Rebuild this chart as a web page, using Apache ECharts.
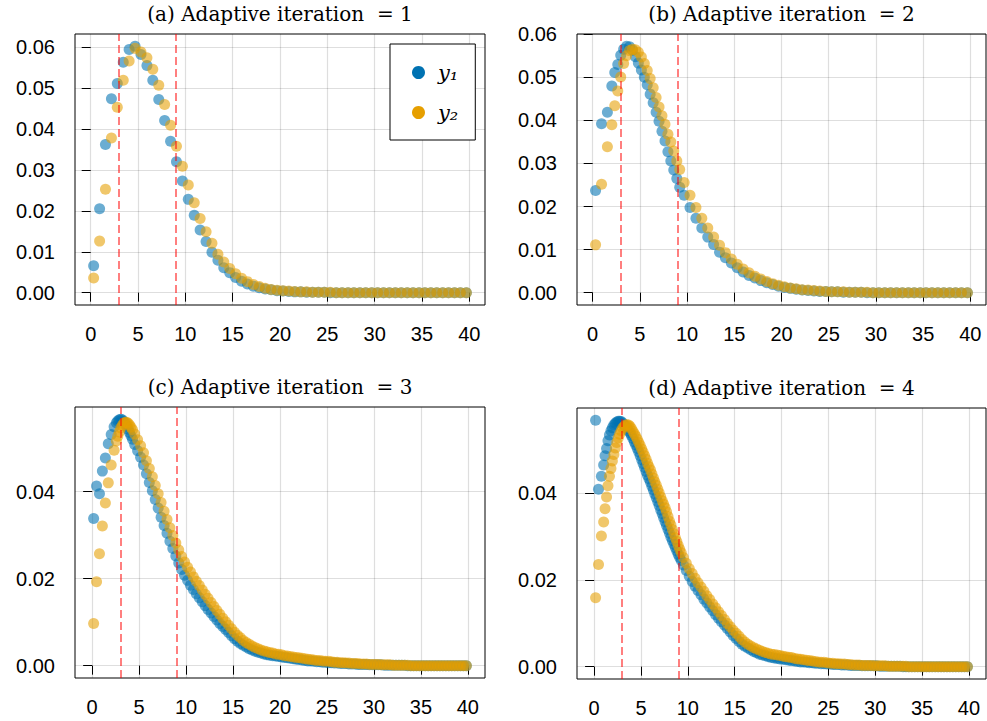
<!DOCTYPE html>
<html><head><meta charset="utf-8">
<script src="https://cdn.jsdelivr.net/npm/echarts@6/dist/echarts.min.js"></script>
<style>html,body{margin:0;padding:0;background:#fff}#c{width:987px;height:721px}</style>
</head><body><div id="c"></div>
<script>
// ---------- data ----------
const titles = ['(a) Adaptive iteration  = 1', '(b) Adaptive iteration  = 2', '(c) Adaptive iteration  = 3', '(d) Adaptive iteration  = 4'];
const seriesNames = ['y\u2081', 'y\u2082'];
const vlines = [3, 9];
const xTicks = [0, 5, 10, 15, 20, 25, 30, 35, 40];
const yTicksAB = [0, 0.01, 0.02, 0.03, 0.04, 0.05, 0.06];
const yTicksCD = [0, 0.02, 0.04];

// (a)
const xA = [0.31,0.94,1.56,2.19,2.81,3.44,4.06,4.69,5.31,5.94,6.56,7.19,7.81,8.44,9.06,9.69,
  10.31,10.94,11.56,12.19,12.81,13.44,14.06,14.69,15.31,15.94,16.56,17.19,17.81,18.44,19.06,19.69,
  20.31,20.94,21.56,22.19,22.81,23.44,24.06,24.69,25.31,25.94,26.56,27.19,27.81,28.44,29.06,29.69,
  30.31,30.94,31.56,32.19,32.81,33.44,34.06,34.69,35.31,35.94,36.56,37.19,37.81,38.44,39.06,39.69];
const y1A = [0.0066,0.0205,0.0362,0.0474,0.0511,0.0563,0.0594,0.0602,0.0582,0.0555,0.0519,0.0472,0.0421,0.0370,0.0320,0.0273,
  0.0228,0.0189,0.0153,0.0125,0.0099,0.0079,0.0061,0.0049,0.0037,0.0028,0.0021,0.0016,0.0012,0.0009,0.0007,0.0005,
  0.0004,0.0003,0.0002,0.0002,0.0001,0.0001,0.0001,0.0001,0,0,0,0,0,0,0,0,
  0,0,0,0,0,0,0,0,0,0,0,0,0,0,0,0];
const y2A = [0.0036,0.0126,0.0253,0.0378,0.0453,0.0519,0.0566,0.0597,0.0588,0.0574,0.0546,0.0507,0.0460,0.0409,0.0358,0.0309,
  0.0263,0.0220,0.0181,0.0149,0.0121,0.0094,0.0075,0.0059,0.0046,0.0035,0.0027,0.0020,0.0015,0.0011,0.0008,0.0006,
  0.0005,0.0004,0.0003,0.0002,0.0002,0.0001,0.0001,0.0001,0.0001,0,0,0,0,0,0,0,
  0,0,0,0,0,0,0,0,0,0,0,0,0,0,0,0];

// (b)
const xB = [0.31,0.94,1.56,
  2.03,2.34,2.66,2.97,3.28,3.59,3.91,4.22,4.53,4.84,5.16,5.47,5.78,6.09,6.41,6.72,7.03,7.34,7.66,7.97,8.28,8.59,8.91,9.22,
  9.69,10.31,10.94,11.56,12.19,12.81,13.44,14.06,14.69,15.31,15.94,16.56,17.19,17.81,18.44,19.06,19.69,
  20.31,20.94,21.56,22.19,22.81,23.44,24.06,24.69,25.31,25.94,26.56,27.19,27.81,28.44,29.06,29.69,
  30.31,30.94,31.56,32.19,32.81,33.44,34.06,34.69,35.31,35.94,36.56,37.19,37.81,38.44,39.06,39.69];
const y1B = [0.0237,0.0392,0.0419,
  0.0480,0.0511,0.0530,0.0551,0.0565,0.0572,0.0571,0.0563,0.0548,0.0533,0.0517,0.0500,0.0483,0.0461,0.0441,0.0419,
  0.0398,0.0375,0.0352,0.0327,0.0306,0.0285,0.0265,0.0245,
  0.0226,0.0198,0.0173,0.0150,0.0129,0.0112,0.0094,0.0081,0.0069,0.0058,0.0048,0.0040,0.0034,0.0028,0.0023,0.0019,
  0.0015,0.0012,0.0010,0.0008,0.0006,0.0005,0.0004,0.0003,0.0003,0.0002,0.0002,0.0001,0.0001,0.0001,0.0001,0,
  0,0,0,0,0,0,0,0,0,0,0,0,0,0,0,0,0];
const y2B = [0.0111,0.0252,0.0339,
  0.0390,0.0434,0.0468,0.0501,0.0532,0.0550,0.0562,0.0565,0.0564,0.0558,0.0547,0.0532,0.0516,0.0497,0.0476,0.0453,
  0.0431,0.0411,0.0391,0.0368,0.0350,0.0329,0.0306,0.0286,
  0.0256,0.0226,0.0198,0.0173,0.0150,0.0129,0.0110,0.0093,0.0078,0.0066,0.0055,0.0046,0.0038,0.0032,0.0026,0.0021,
  0.0017,0.0014,0.0011,0.0009,0.0007,0.0006,0.0005,0.0004,0.0003,0.0002,0.0002,0.0002,0.0001,0.0001,0.0001,0.0001,
  0,0,0,0,0,0,0,0,0,0,0,0,0,0,0,0,0];

// (c)
const xC = [0.16,0.47,0.78,1.09,1.41,1.72,2.03,2.34,
  2.58,2.73,2.89,3.05,3.20,3.36,3.52,3.67,3.83,3.98,4.14,4.30,
  4.53,4.84,5.16,5.47,5.78,6.09,6.41,6.72,7.03,7.34,7.66,7.97,8.28,8.59,8.91,9.22,9.53,9.84,
  10.16,10.47,10.78,11.09,11.41,11.72,12.03,12.34,12.66,12.97,13.28,13.59,13.91,14.22,14.53,14.84,
  15.16,15.47,15.78,16.09,16.41,16.72,17.03,17.34,17.66,17.97,18.28,18.59,18.91,19.22,19.53,19.84,
  20.16,20.47,20.78,21.09,21.41,21.72,22.03,22.34,22.66,22.97,23.28,23.59,23.91,24.22,24.53,24.84,
  25.16,25.47,25.78,26.09,26.41,26.72,27.03,27.34,27.66,27.97,28.28,28.59,28.91,29.22,29.53,29.84,
  30.16,30.47,30.78,31.09,31.41,31.72,32.03,32.34,32.66,32.97,33.28,33.59,33.91,34.22,34.53,34.84,
  35.16,35.47,35.78,36.09,36.41,36.72,37.03,37.34,37.66,37.97,38.28,38.59,38.91,39.22,39.53,39.84];
const y1C = [0.0338,0.0413,0.0395,0.0447,0.0477,0.0510,0.0531,0.0549,
  0.0558,0.0562,0.0565,0.0566,0.0565,0.0561,0.0556,0.0550,0.0543,0.0536,0.0528,0.0520,
  0.0508,0.0494,0.0479,0.0461,0.0441,0.0421,0.0402,0.0382,0.0362,0.0341,0.0322,0.0304,0.0286,0.0269,0.0252,0.0236,0.0221,0.0208,
  0.0196,0.0185,0.0175,0.0165,0.0156,0.0147,0.0138,0.0129,0.0121,0.0113,0.0105,0.0097,0.0090,0.0083,0.0076,0.0069,
  0.0062,0.0056,0.0051,0.0047,0.0043,0.0039,0.0036,0.0033,0.0031,0.0029,0.0027,0.0025,0.0024,0.0023,0.0022,0.0021,
  0.0020,0.0019,0.0018,0.0017,0.0016,0.0015,0.0014,0.0013,0.0012,0.0011,0.0011,0.0010,0.0009,0.0009,0.0008,0.0008,
  0.0007,0.0007,0.0006,0.0006,0.0005,0.0005,0.0005,0.0004,0.0004,0.0004,0.0003,0.0003,0.0003,0.0003,0.0002,0.0002,
  0.0002,0.0002,0.0002,0.0001,0.0001,0.0001,0.0001,0.0001,0.0001,0.0001,0.0001,0,0,0,0,0,
  0,0,0,0,0,0,0,0,0,0,0,0,0,0,0,0];
const y2C = [0.0097,0.0193,0.0257,0.0321,0.0374,0.0420,0.0461,0.0495,
  0.0516,0.0527,0.0537,0.0546,0.0552,0.0557,0.0559,0.0559,0.0557,0.0553,0.0548,0.0542,
  0.0532,0.0519,0.0505,0.0489,0.0471,0.0453,0.0434,0.0414,0.0395,0.0375,0.0355,0.0336,0.0317,0.0299,0.0282,0.0266,0.0251,0.0238,
  0.0226,0.0215,0.0204,0.0194,0.0184,0.0174,0.0164,0.0155,0.0145,0.0136,0.0127,0.0118,0.0109,0.0101,0.0093,0.0085,
  0.0077,0.0070,0.0064,0.0058,0.0053,0.0049,0.0045,0.0042,0.0039,0.0036,0.0034,0.0032,0.0030,0.0029,0.0027,0.0026,
  0.0025,0.0023,0.0022,0.0021,0.0020,0.0019,0.0018,0.0017,0.0016,0.0015,0.0014,0.0013,0.0012,0.0012,0.0011,0.0010,
  0.0010,0.0009,0.0008,0.0008,0.0007,0.0007,0.0006,0.0006,0.0005,0.0005,0.0005,0.0004,0.0004,0.0004,0.0003,0.0003,
  0.0003,0.0003,0.0002,0.0002,0.0002,0.0002,0.0001,0.0001,0.0001,0.0001,0.0001,0.0001,0,0,0,0,
  0,0,0,0,0,0,0,0,0,0,0,0,0,0,0,0];

// (d)
const xD = [0.16,0.47,0.78,
  1.02,1.17,1.33,1.48,1.64,1.80,1.95,2.11,2.27,2.42,2.58,2.73,2.89,3.05,3.20,3.36,3.52,3.67,3.83,3.98,
  4.14,4.30,4.45,4.61,4.77,4.92,5.08,5.23,5.39,5.55,5.70,5.86,6.02,6.17,6.33,6.48,6.64,6.80,6.95,7.11,
  7.27,7.42,7.58,7.73,7.89,8.05,8.20,8.36,8.52,8.67,8.83,8.98,9.14,9.30,
  9.53,9.84,
  10.16,10.47,10.78,11.09,11.41,11.72,12.03,12.34,12.66,12.97,13.28,13.59,13.91,14.22,14.53,14.84,
  15.16,15.47,15.78,16.09,16.41,16.72,17.03,17.34,17.66,17.97,18.28,18.59,18.91,19.22,19.53,19.84,
  20.16,20.47,20.78,21.09,21.41,21.72,22.03,22.34,22.66,22.97,23.28,23.59,23.91,24.22,24.53,24.84,
  25.16,25.47,25.78,26.09,26.41,26.72,27.03,27.34,27.66,27.97,28.28,28.59,28.91,29.22,29.53,29.84,
  30.16,30.47,30.78,31.09,31.41,31.72,32.03,32.34,32.66,32.97,33.28,33.59,33.91,34.22,34.53,34.84,
  35.16,35.47,35.78,36.09,36.41,36.72,37.03,37.34,37.66,37.97,38.28,38.59,38.91,39.22,39.53,39.84];
const y1D = [0.0569,0.0410,0.0440,
  0.0466,0.0487,0.0504,0.0522,0.0535,0.0545,0.0552,0.0558,0.0562,0.0565,
  0.0567,0.0567,0.0566,0.0563,0.0559,0.0555,0.0550,0.0545,0.0540,0.0534,
  0.0527,0.0519,0.0512,0.0504,0.0496,0.0487,0.0478,0.0469,0.0460,0.0451,
  0.0442,0.0434,0.0426,0.0417,0.0408,0.0399,0.0390,0.0381,0.0372,0.0362,
  0.0353,0.0344,0.0335,0.0326,0.0317,0.0308,0.0299,0.0291,0.0283,0.0275,
  0.0267,0.0259,0.0252,0.0245,
  0.0235,0.0222,
  0.0209,0.0197,0.0186,0.0176,0.0166,0.0156,0.0147,0.0138,0.0129,0.0120,0.0112,0.0104,0.0096,0.0088,0.0080,0.0072,
  0.0065,0.0058,0.0052,0.0047,0.0043,0.0039,0.0035,0.0032,0.0029,0.0027,0.0025,0.0023,0.0021,0.0020,0.0019,0.0018,
  0.0017,0.0016,0.0015,0.0014,0.0013,0.0012,0.0011,0.0011,0.0010,0.0009,0.0009,0.0008,0.0008,0.0007,0.0007,0.0006,
  0.0006,0.0005,0.0005,0.0005,0.0004,0.0004,0.0004,0.0003,0.0003,0.0003,0.0003,0.0002,0.0002,0.0002,0.0002,0.0002,
  0.0002,0.0001,0.0001,0.0001,0.0001,0.0001,0.0001,0.0001,0.0001,0,0,0,0,0,0,0,
  0,0,0,0,0,0,0,0,0,0,0,0,0,0,0,0];
const y2D = [0.0159,0.0236,0.0302,
  0.0334,0.0365,0.0392,0.0418,0.0440,0.0458,0.0475,0.0490,0.0505,0.0518,
  0.0528,0.0537,0.0545,0.0551,0.0555,0.0558,0.0559,0.0558,0.0555,0.0550,
  0.0544,0.0538,0.0532,0.0525,0.0518,0.0511,0.0503,0.0495,0.0487,0.0479,
  0.0470,0.0462,0.0454,0.0445,0.0436,0.0427,0.0419,0.0410,0.0401,0.0392,
  0.0383,0.0375,0.0367,0.0358,0.0347,0.0336,0.0327,0.0317,0.0307,0.0298,
  0.0289,0.0280,0.0271,0.0263,
  0.0252,0.0239,
  0.0226,0.0215,0.0204,0.0194,0.0184,0.0174,0.0164,0.0155,0.0145,0.0136,0.0127,0.0118,0.0109,0.0100,0.0092,0.0084,
  0.0077,0.0070,0.0063,0.0057,0.0052,0.0048,0.0044,0.0041,0.0038,0.0035,0.0033,0.0031,0.0029,0.0028,0.0027,0.0026,
  0.0024,0.0023,0.0022,0.0021,0.0019,0.0018,0.0017,0.0016,0.0015,0.0014,0.0013,0.0012,0.0011,0.0010,0.0010,0.0009,
  0.0008,0.0008,0.0007,0.0007,0.0006,0.0006,0.0005,0.0005,0.0004,0.0004,0.0004,0.0003,0.0003,0.0003,0.0003,0.0002,
  0.0002,0.0002,0.0002,0.0002,0.0001,0.0001,0.0001,0.0001,0.0001,0.0001,0.0001,0,0,0,0,0,
  0,0,0,0,0,0,0,0,0,0,0,0,0,0,0,0];

// ---------- layout / styling ----------
const BLUE = '#0072B2', ORANGE = '#E69F00';
const panels = [
  {x: xA, y1: y1A, y2: y2A, yTicks: yTicksAB, grid: {left: 75, top: 34, width: 410, height: 271}},
  {x: xB, y1: y1B, y2: y2B, yTicks: yTicksAB, grid: {left: 577, top: 34, width: 409, height: 271}},
  {x: xC, y1: y1C, y2: y2C, yTicks: yTicksCD, grid: {left: 75, top: 407, width: 410, height: 271}},
  {x: xD, y1: y1D, y2: y2D, yTicks: yTicksCD, grid: {left: 577, top: 408, width: 409, height: 271}}
];

const labelFont = {fontFamily: 'Liberation Sans', fontSize: 20, color: '#000'};
const grids = [], xAxes = [], yAxes = [], series = [], graphics = [];

panels.forEach((p, i) => {
  const xmin = Math.min(...p.x), xmax = Math.max(...p.x);
  const all = p.y1.concat(p.y2);
  const ymin = Math.min(...all), ymax = Math.max(...all);
  const xm = 0.05 * (xmax - xmin), ym = 0.05 * (ymax - ymin);
  grids.push(Object.assign({show: true, borderColor: '#000', borderWidth: 1, backgroundColor: 'transparent', containLabel: false}, p.grid));
  xAxes.push({
    type: 'value', gridIndex: i, min: xmin - xm, max: xmax + xm,
    axisLine: {show: false},
    axisTick: {show: true, inside: false, length: 9, customValues: xTicks, lineStyle: {color: '#000', width: 1}},
    axisLabel: Object.assign({show: true, margin: 19, customValues: xTicks, formatter: v => String(v)}, labelFont),
    splitLine: {show: true, lineStyle: {color: 'rgba(0,0,0,0.13)', width: 1.2}}
  });
  yAxes.push({
    type: 'value', gridIndex: i, min: ymin - ym, max: ymax + ym,
    axisLine: {show: false},
    axisTick: {show: true, inside: false, length: 9, customValues: p.yTicks, lineStyle: {color: '#000', width: 1}},
    axisLabel: Object.assign({show: true, margin: 20, customValues: p.yTicks, formatter: v => v.toFixed(2)}, labelFont),
    splitLine: {show: true, lineStyle: {color: 'rgba(0,0,0,0.13)', width: 1.2}}
  });
  series.push({
    type: 'scatter', name: seriesNames[0], xAxisIndex: i, yAxisIndex: i, z: 2,
    symbol: 'circle', symbolSize: 11, itemStyle: {color: BLUE, opacity: 0.58},
    data: p.x.map((v, k) => [v, p.y1[k]])
  });
  series.push({
    type: 'scatter', name: seriesNames[1], xAxisIndex: i, yAxisIndex: i, z: 3,
    symbol: 'circle', symbolSize: 11, itemStyle: {color: ORANGE, opacity: 0.58},
    data: p.x.map((v, k) => [v, p.y2[k]])
  });
  series.push({
    type: 'scatter', name: 'vlines' + i, xAxisIndex: i, yAxisIndex: i, z: 4, data: [], silent: true,
    markLine: {
      silent: true, symbol: ['none', 'none'], animation: false,
      label: {show: false},
      lineStyle: {color: 'rgba(255,0,0,0.5)', type: [8, 4], width: 2},
      data: vlines.map(v => ({xAxis: v}))
    }
  });
  graphics.push({
    type: 'text', x: p.grid.left + p.grid.width / 2, y: p.grid.top - 20,
    style: {text: titles[i], fill: '#000', font: '20px "DejaVu Serif"', align: 'center', verticalAlign: 'middle', textAlign: 'center', textVerticalAlign: 'middle'}
  });
});

const chart = echarts.init(document.getElementById('c'), null, {renderer: 'svg', width: 987, height: 721});
chart.setOption({
  animation: false,
  backgroundColor: '#fff',
  grid: grids,
  xAxis: xAxes,
  yAxis: yAxes,
  series: series,
  graphic: graphics,
  legend: {
    data: [
      {name: seriesNames[0], itemStyle: {color: BLUE, opacity: 1}},
      {name: seriesNames[1], itemStyle: {color: ORANGE, opacity: 1}}
    ],
    orient: 'vertical', left: 390, top: 44,
    padding: [18, 17, 17, 22], itemGap: 19, itemWidth: 13, itemHeight: 13, icon: 'circle',
    borderColor: '#000', borderWidth: 1, backgroundColor: '#fff',
    selectedMode: false,
    textStyle: {fontFamily: 'DejaVu Serif', fontStyle: 'italic', fontSize: 21, color: '#000', padding: [0, 0, 0, 8], lineHeight: 20}
  }
});
</script>
</body></html>
